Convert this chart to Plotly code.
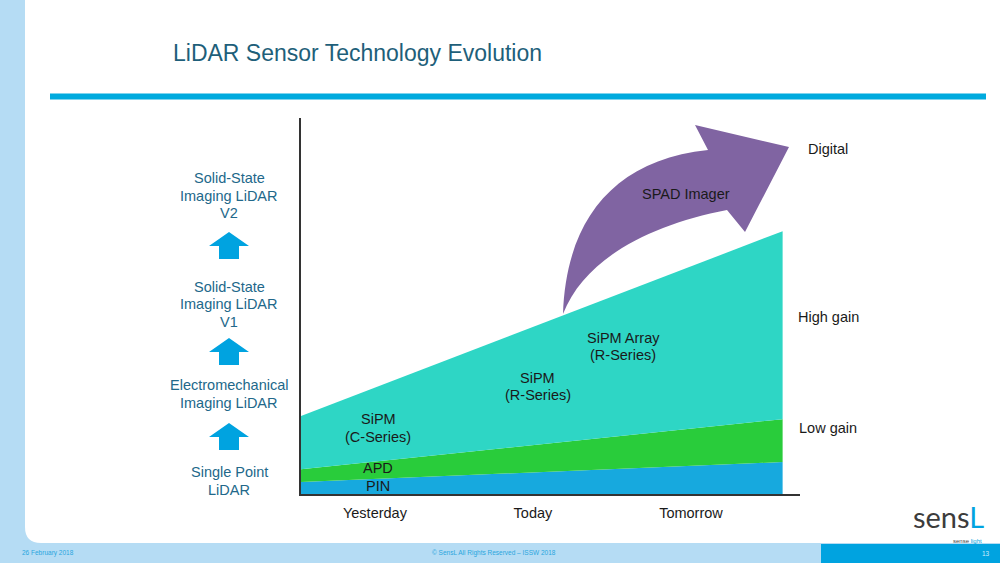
import plotly.graph_objects as go

W, H = 1000, 563

# ---- data ----
timeline = [0.53, 3.58]                 # start / end of the timeline (axis units)
period_pos = [1, 2, 3]
period_labels = ["Yesterday", "Today", "Tomorrow"]
pin_vals = [3.2, 8.5]
apd_vals = [3.4, 11.4]
sipm_vals = [14.1, 50.0]

stage_labels = ["Single Point<br>LiDAR",
                "Electromechanical<br>Imaging LiDAR",
                "Solid-State<br>Imaging LiDAR<br>V1",
                "Solid-State<br>Imaging LiDAR<br>V2"]
gain_labels = ["Digital", "High gain", "Low gain"]

# ---- helpers for slide decorations (pixel -> paper) ----
def px(x):
    return x / W

def py(y):
    return 1 - y / H

def path(cmds):
    out = []
    for c in cmds:
        if isinstance(c, str):
            out.append(c)
        else:
            out.append(f"{px(c[0]):.5f},{py(c[1]):.5f}")
    return " ".join(out)

FONT = "Liberation Sans, Arial"
LINE = 17.5
fig = go.Figure()

fig.add_trace(go.Scatter(x=timeline, y=pin_vals, stackgroup="s", mode="none",
                         fillcolor="#17a9de", name="PIN", hoverinfo="skip"))
fig.add_trace(go.Scatter(x=timeline, y=apd_vals, stackgroup="s", mode="none",
                         fillcolor="#29cc3b", name="APD", hoverinfo="skip"))
fig.add_trace(go.Scatter(x=timeline, y=sipm_vals, stackgroup="s", mode="none",
                         fillcolor="#2ed6c5", name="SiPM", hoverinfo="skip"))

shapes = []
# white rounded slide body
shapes.append(dict(type="path", xref="paper", yref="paper", layer="below",
                   path=path(["M", (25, -5), "L", (1005, -5), "L", (1005, 543), "L", (41, 543),
                              "Q", (25, 543), (25, 527), "Z"]),
                   fillcolor="white", line=dict(width=0)))
# footer right block
shapes.append(dict(type="rect", xref="paper", yref="paper", layer="below",
                   x0=px(821), x1=px(1000), y0=py(563), y1=py(544),
                   fillcolor="#00a3e0", line=dict(width=0)))
# top blue rule
shapes.append(dict(type="rect", xref="paper", yref="paper",
                   x0=px(50), x1=px(986), y0=py(99.5), y1=py(93.5),
                   fillcolor="#00aade", line=dict(width=0)))
# purple curved arrow
shapes.append(dict(type="path", xref="paper", yref="paper",
                   path=path(["M", (563, 314), "C", (566, 222), (612, 160), (708, 150),
                              "L", (695, 125), "L", (789, 147), "L", (745, 232), "L", (727, 210),
                              "C", (650, 225), (585, 258), (563, 314), "Z"]),
                   fillcolor="#8064a2", line=dict(width=0)))
# blue up arrows on the left
for top in [232, 338, 423]:
    shapes.append(dict(type="path", xref="paper", yref="paper",
                       path=path(["M", (229, top), "L", (249, top + 14), "L", (239, top + 14),
                                  "L", (239, top + 27), "L", (219, top + 27), "L", (219, top + 14),
                                  "L", (209, top + 14), "Z"]),
                       fillcolor="#00a3e0", line=dict(width=0)))

ann = []

def multiline(text, font, **kw):
    lines = text.split("<br>")
    n = len(lines)
    for i, ln in enumerate(lines):
        ann.append(dict(text=ln, showarrow=False, font=font, xanchor="center",
                        yanchor="middle", yshift=((n - 1) / 2 - i) * LINE, **kw))

font_dark = dict(family=FONT, size=14.5, color="#1a1a1a")
# title
ann.append(dict(text="LiDAR Sensor Technology Evolution", xref="paper", yref="paper",
                x=px(171), y=py(53), xanchor="left", yanchor="middle", showarrow=False,
                font=dict(family=FONT, size=23, color="#1e5f7a")))
# area labels (data coordinates)
multiline("SiPM<br>(C-Series)", font_dark, x=1.02, y=17.5)
multiline("SiPM<br>(R-Series)", font_dark, x=2.03, y=28.6)
multiline("SiPM Array<br>(R-Series)", font_dark, x=2.57, y=39.2)
multiline("APD", font_dark, x=1.02, y=6.8)
multiline("PIN", font_dark, x=1.02, y=2.0)
multiline("SPAD Imager", font_dark, xref="paper", yref="paper", x=px(686), y=py(194))
# right-hand gain labels
for txt, xx, yy in zip(gain_labels, [806, 796, 797], [149, 317, 428]):
    ann.append(dict(text=txt, xref="paper", yref="paper", x=px(xx), y=py(yy),
                    xanchor="left", yanchor="middle", showarrow=False, font=font_dark))
# left stage labels
for txt, yy in zip(stage_labels, [481, 394, 304, 196]):
    multiline(txt, dict(family=FONT, size=14.5, color="#22688a"),
              xref="paper", yref="paper", x=px(229), y=py(yy))
# footer
foot = dict(family=FONT, size=6.5, color="#2aa6de")
ann.append(dict(text="26 February 2018", xref="paper", yref="paper", x=px(20), y=py(553),
                xanchor="left", yanchor="middle", showarrow=False, font=foot))
ann.append(dict(text="© SensL All Rights Reserved – ISSW 2018", xref="paper", yref="paper",
                x=px(494), y=py(553), xanchor="center", yanchor="middle", showarrow=False, font=foot))
ann.append(dict(text="13", xref="paper", yref="paper", x=px(986), y=py(553),
                xanchor="center", yanchor="middle", showarrow=False,
                font=dict(family=FONT, size=6.5, color="#cfeefa")))
# logo
ann.append(dict(text="sens<span style='color:#00a3e0'>L</span>", xref="paper", yref="paper",
                x=px(986), y=py(536), xanchor="right", yanchor="bottom", showarrow=False,
                font=dict(family="Lato, Liberation Sans", size=29, color="#3c3c3c")))
ann.append(dict(text="sense <span style='color:#00a3e0'>light</span>", xref="paper", yref="paper",
                x=px(984), y=py(536), xanchor="right", yanchor="top", showarrow=False,
                font=dict(family=FONT, size=6, color="#444444")))

fig.update_layout(
    width=W, height=H,
    margin=dict(l=0, r=0, t=0, b=0),
    paper_bgcolor="#b5dcf4", plot_bgcolor="rgba(0,0,0,0)",
    showlegend=False,
    shapes=shapes, annotations=ann,
    xaxis=dict(domain=[px(301), px(800)], range=[0.532, 3.69], tickvals=period_pos,
               ticktext=period_labels, showgrid=False, zeroline=False, showline=True,
               linecolor="#333333", linewidth=1.5, ticks="", ticklabelstandoff=5,
               tickfont=dict(family=FONT, size=14.5, color="#1a1a1a"),
               fixedrange=True),
    yaxis=dict(domain=[py(494), py(118)], range=[0, 100], showgrid=False, zeroline=False,
               showline=True, linecolor="#333333", linewidth=1.5, showticklabels=False,
               ticks="", fixedrange=True),
)

fig.write_html("out.html", config={"displayModeBar": False},
               post_script="document.body.style.margin='0';document.body.style.overflow='hidden';")
